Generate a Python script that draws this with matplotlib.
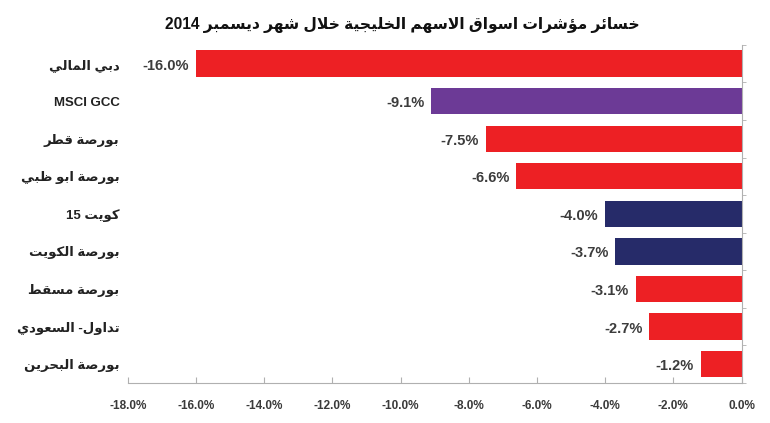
import matplotlib
matplotlib.use('Agg')
import matplotlib.pyplot as plt
from matplotlib.ticker import FuncFormatter, FixedLocator

plt.rcParams['font.family'] = ['Liberation Sans', 'DejaVu Sans']

# data
title = 'خسائر مؤشرات اسواق الاسهم الخليجية خلال شهر ديسمبر 2014'
labels = ['دبي المالي', 'MSCI GCC', 'بورصة قطر', 'بورصة ابو ظبي', 'كويت 15',
          'بورصة الكويت', 'بورصة مسقط', 'تداول- السعودي', 'بورصة البحرين']
values = [-16.0, -9.1, -7.5, -6.6, -4.0, -3.7, -3.1, -2.7, -1.2]
colors = ['#ED2024', '#6C3A96', '#ED2024', '#ED2024', '#262B69',
          '#262B69', '#ED2024', '#ED2024', '#ED2024']

# matplotlib does no arabic shaping, so do a small one by hand
# letter -> (first presentation form, number of forms)
forms = {
    'ء': (0xFE80, 1), 'آ': (0xFE81, 2), 'أ': (0xFE83, 2), 'ؤ': (0xFE85, 2),
    'إ': (0xFE87, 2), 'ئ': (0xFE89, 4), 'ا': (0xFE8D, 2), 'ب': (0xFE8F, 4),
    'ة': (0xFE93, 2), 'ت': (0xFE95, 4), 'ث': (0xFE99, 4), 'ج': (0xFE9D, 4),
    'ح': (0xFEA1, 4), 'خ': (0xFEA5, 4), 'د': (0xFEA9, 2), 'ذ': (0xFEAB, 2),
    'ر': (0xFEAD, 2), 'ز': (0xFEAF, 2), 'س': (0xFEB1, 4), 'ش': (0xFEB5, 4),
    'ص': (0xFEB9, 4), 'ض': (0xFEBD, 4), 'ط': (0xFEC1, 4), 'ظ': (0xFEC5, 4),
    'ع': (0xFEC9, 4), 'غ': (0xFECD, 4), 'ف': (0xFED1, 4), 'ق': (0xFED5, 4),
    'ك': (0xFED9, 4), 'ل': (0xFEDD, 4), 'م': (0xFEE1, 4), 'ن': (0xFEE5, 4),
    'ه': (0xFEE9, 4), 'و': (0xFEED, 2), 'ى': (0xFEEF, 2), 'ي': (0xFEF1, 4),
}
lam_alef = {'آ': 0xFEF5, 'أ': 0xFEF7, 'إ': 0xFEF9, 'ا': 0xFEFB}


def shape(word):
    units = []
    i = 0
    while i < len(word):
        c = word[i]
        if c == 'ل' and i + 1 < len(word) and word[i + 1] in lam_alef:
            units.append((lam_alef[word[i + 1]], 2))
            i += 2
            continue
        units.append(forms.get(c, (c, 0)))
        i += 1
    out = []
    for k, (base, n) in enumerate(units):
        if n == 0:
            out.append(base)
            continue
        prev = units[k - 1] if k > 0 else (None, 0)
        nxt = units[k + 1] if k + 1 < len(units) else (None, 0)
        join_prev = n > 1 and prev[1] == 4
        join_next = n == 4 and nxt[1] > 1
        if join_prev and join_next:
            off = 3
        elif join_next:
            off = 2
        elif join_prev:
            off = 1
        else:
            off = 0
        out.append(chr(base + off))
    return ''.join(out)


def ar(text):
    if not any('\u0600' <= c <= '\u06FF' for c in text):
        return text
    s = shape(text)
    # split into ltr (latin/digits) and rtl runs, then lay out right to left
    runs = []
    for c in s:
        ltr = c.isascii() and c.isalnum()
        if runs and runs[-1][0] == ltr:
            runs[-1][1] += c
        else:
            runs.append([ltr, c])
    return ''.join(r if ltr else r[::-1] for ltr, r in reversed(runs))


fig = plt.figure(figsize=(7.7, 4.23), dpi=100)
ax = fig.add_axes([0.166, 0.0946, 0.797, 0.7994])

y = list(range(len(values)))
ax.barh(y, values, height=0.7, color=colors)
for yi, v in zip(y, values):
    ax.text(v - 0.2, yi + 0.05, '%.1f%%' % v, ha='right', va='center',
            fontsize=10.5, fontweight='bold', color='#3c3c3c')

ax.set_xlim(-18, 0)
ax.set_ylim(len(values) - 0.5, -0.5)
ax.set_xticks(range(-18, 1, 2))
ax.xaxis.set_major_formatter(FuncFormatter(lambda v, p: '%.1f%%' % v))
ax.tick_params(axis='x', direction='in', length=4, color='#b0b0b0',
               labelsize=8.5, labelcolor='#3a3a3a', pad=12)
for t in ax.get_xticklabels():
    t.set_fontweight('bold')

ax.set_yticks(y)
ax.set_yticklabels([ar(l) for l in labels], fontsize=9.5, fontweight='bold',
                   color='#222222')
ax.tick_params(axis='y', which='major', length=0, pad=6)
ax.yaxis.set_minor_locator(FixedLocator([i - 0.5 for i in range(len(values) + 1)]))
ax.tick_params(axis='y', which='minor', left=False, right=True, direction='out',
               length=3, color='#b0b0b0')

for side in ['top', 'left']:
    ax.spines[side].set_visible(False)
ax.spines['bottom'].set_color('#b0b0b0')
ax.spines['right'].set_color('#b0b0b0')

fig.text(0.523, 0.94, ar(title), ha='center', va='center', fontsize=11.2,
         fontweight='bold', color='#111111')

fig.savefig('out.png', dpi=100)
